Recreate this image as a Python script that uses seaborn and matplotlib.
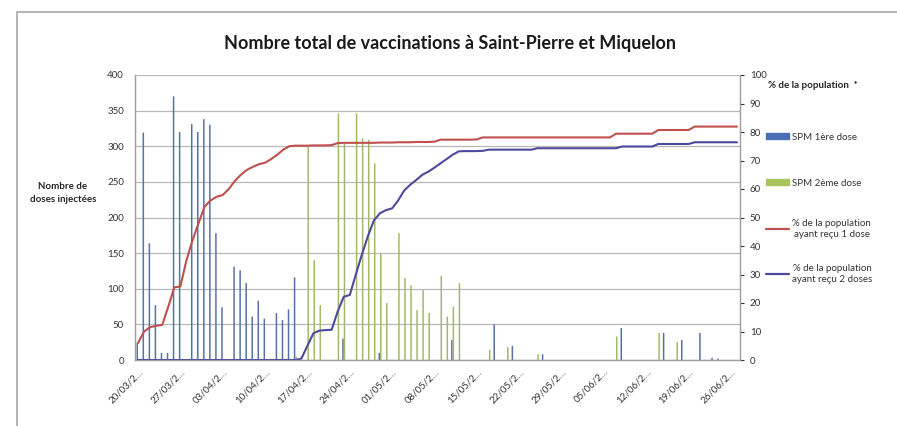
import numpy as np
import pandas as pd
import matplotlib
matplotlib.use("Agg")
import matplotlib.pyplot as plt
import seaborn as sns
from matplotlib.patches import Patch, Rectangle
from matplotlib.lines import Line2D

# un point par jour a partir du 20/03/2021
n_days = 100
dates = pd.date_range("2021-03-20", periods=n_days, freq="D")

# doses injectees par jour (jours sans injection = 0)
dose1_days = [0, 1, 2, 3, 4, 5, 6, 7, 9, 10, 11, 12, 13, 14, 16, 17, 18, 19, 20, 21,
              23, 24, 25, 26, 34, 40, 52, 59, 62, 67, 80, 87, 90, 93, 95, 96]
dose1_vals = [24, 319, 164, 77, 10, 10, 370, 320, 331, 320, 338, 330, 178, 74, 131, 126, 108, 61, 83, 58,
              66, 56, 71, 116, 30, 10, 28, 50, 20, 8, 45, 38, 28, 38, 3, 2]

dose2_days = [26, 28, 29, 30, 33, 34, 36, 37, 38, 39, 40, 41, 43, 44, 45, 46, 47, 48,
              50, 51, 52, 53, 58, 61, 66, 79, 86, 89]
dose2_vals = [5, 299, 140, 77, 346, 304, 346, 311, 309, 276, 150, 80, 178, 115, 105, 70, 98, 66,
              118, 61, 75, 108, 14, 18, 8, 33, 38, 25]

# % de la population (axe de droite)
pct_1dose = [6, 10, 11.5, 12, 12.3, 18.7, 25.5, 25.8, 35, 42,
             48, 53.8, 56, 57.3, 57.9, 60, 62.8, 65, 66.7, 67.8,
             68.7, 69.2, 70.5, 72, 73.8, 75, 75.2, 75.2, 75.2, 75.3,
             75.3, 75.3, 75.4, 76.1, 76.2, 76.2, 76.2, 76.2, 76.2, 76.2,
             76.3, 76.3, 76.3, 76.4, 76.4, 76.4, 76.5, 76.5, 76.5, 76.6,
             77.3, 77.3, 77.3, 77.3, 77.3, 77.3, 77.4, 78.1, 78.1, 78.1,
             78.1, 78.1, 78.1, 78.1, 78.1, 78.1, 78.1, 78.1, 78.1, 78.1,
             78.1, 78.1, 78.1, 78.1, 78.1, 78.1, 78.1, 78.1, 78.1, 79.4,
             79.4, 79.4, 79.4, 79.4, 79.4, 79.4, 80.7, 80.7, 80.7, 80.7,
             80.7, 80.7, 81.9, 81.9, 81.9, 81.9, 81.9, 81.9, 81.9, 81.9]
pct_2doses = [0, 0, 0, 0, 0, 0, 0, 0, 0, 0,
              0, 0, 0, 0, 0, 0, 0, 0, 0, 0,
              0, 0, 0, 0, 0, 0, 0, 0.5, 5, 9.4,
              10.3, 10.5, 10.6, 17, 22.2, 22.8, 30, 37, 43.5, 49,
              51.5, 52.6, 53.2, 56, 59.5, 61.5, 63.2, 65, 66.1, 67.5,
              69, 70.5, 72, 73.2, 73.3, 73.3, 73.3, 73.4, 73.8, 73.8,
              73.8, 73.8, 73.8, 73.8, 73.8, 73.8, 74.3, 74.3, 74.3, 74.3,
              74.3, 74.3, 74.3, 74.3, 74.3, 74.3, 74.3, 74.3, 74.3, 74.3,
              74.9, 74.9, 74.9, 74.9, 74.9, 74.9, 75.8, 75.8, 75.8, 75.8,
              75.8, 75.8, 76.4, 76.4, 76.4, 76.4, 76.4, 76.4, 76.4, 76.4]

labels = ["SPM 1ère dose", "SPM 2ème dose",
          "% de la population\nayant reçu 1 dose", "% de la population\nayant reçu 2 doses"]
c_blue, c_green, c_red, c_purple = "#4a6db3", "#a9c45c", "#c0504d", "#4c4a9c"

sns.set_style("white")
plt.rcParams["font.family"] = ["Lato", "DejaVu Sans"]

d1 = np.zeros(n_days)
d1[dose1_days] = dose1_vals
d2 = np.zeros(n_days)
d2[dose2_days] = dose2_vals
bars = pd.DataFrame({
    "jour": np.tile(np.arange(n_days), 2),
    "doses": np.concatenate([d1, d2]),
    "serie": [labels[0]] * n_days + [labels[1]] * n_days,
})

fig = plt.figure(figsize=(8.97, 4.26), dpi=100)
ax = fig.add_axes([135 / 897, 66 / 426, 605 / 897, 285 / 426])

sns.barplot(data=bars, x="jour", y="doses", hue="serie", palette=[c_blue, c_green],
            width=0.5, dodge=True, errorbar=None, legend=False, ax=ax, linewidth=0)
for p in ax.patches:
    p.set_snap(False)

ax2 = ax.twinx()
sns.lineplot(x=np.arange(n_days), y=pct_1dose, color=c_red, lw=1.5, ax=ax2)
sns.lineplot(x=np.arange(n_days), y=pct_2doses, color=c_purple, lw=1.5, ax=ax2)

ax.set_xlim(-0.5, n_days - 0.5)
ax.set_ylim(0, 400)
ax.set_yticks(range(0, 401, 50))
ax2.set_ylim(0, 100)
ax2.set_yticks(range(0, 101, 10))
ax.set_axisbelow(True)
ax.yaxis.grid(True, color="#b8b8b8", lw=0.9)

ticks = list(range(0, n_days, 7))
ax.set_xticks(ticks)
ax.set_xticklabels([dates[i].strftime("%d/%m/2…") for i in ticks], rotation=45,
                   ha="right", rotation_mode="anchor", fontsize=7, color="#333333")
ax.set_xlabel("")
ax.set_ylabel("")
ax2.set_ylabel("")
ax.tick_params(axis="y", labelsize=7, colors="#333333", length=0, pad=8)
ax2.tick_params(axis="y", labelsize=7, colors="#333333", length=3, pad=4, direction="out")
ax.tick_params(axis="x", length=3, direction="out", pad=2)

for a in (ax, ax2):
    a.spines["top"].set_visible(False)
    for s in ("left", "bottom", "right"):
        a.spines[s].set_color("#a0a0a0")
        a.spines[s].set_linewidth(0.9)

fig.text(450 / 897, 1 - 43 / 426, "Nombre total de vaccinations à Saint-Pierre et Miquelon",
         ha="center", va="center", fontsize=13, fontweight="bold", color="#1a1a1a")
fig.text(63 / 897, 1 - 193 / 426, "Nombre de\ndoses injectées", ha="center", va="center",
         fontsize=7, fontweight="bold", linespacing=1.6)
fig.text(768 / 897, 1 - 86 / 426, "% de la population  *", ha="left", va="center",
         fontsize=7, fontweight="bold")

# legende : une entree par bloc, espacees comme dans Excel
handles = [Patch(color=c_blue), Patch(color=c_green),
           Line2D([], [], color=c_red, lw=1.6), Line2D([], [], color=c_purple, lw=1.6)]
legend_y = [137, 183, 229, 274]
for h, lab, yy in zip(handles, labels, legend_y):
    leg = fig.legend([h], [lab], loc="center left", bbox_to_anchor=(764 / 897, 1 - yy / 426),
                     frameon=False, fontsize=7, handlelength=2.4, handleheight=0.5,
                     handletextpad=0.3, borderaxespad=0, borderpad=0.2)
    for t in leg.get_texts():
        t.set_multialignment("center")
        t.set_color("#333333")

# cadre du graphique
fig.add_artist(Rectangle((17 / 897, -0.1), 1.0, 1.1 - 12 / 426, transform=fig.transFigure,
                         fill=False, edgecolor="#a8a8a8", lw=1.2))

fig.savefig("out.png", dpi=100)
